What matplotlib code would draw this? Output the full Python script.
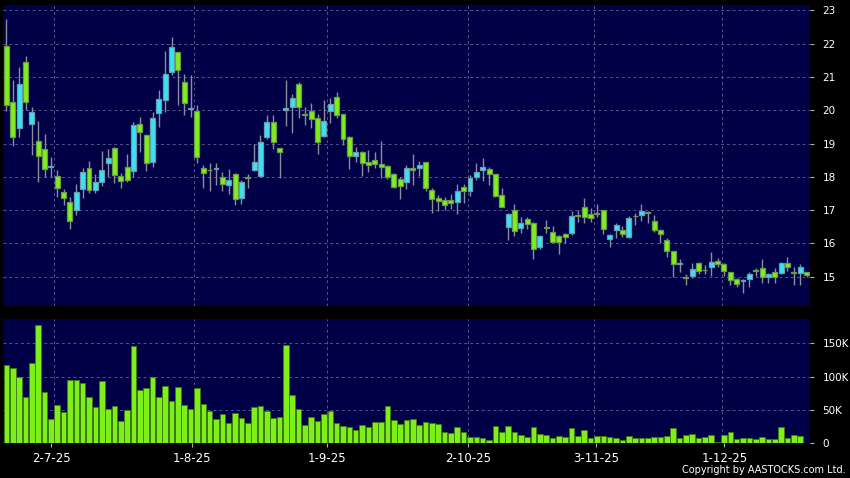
#!/usr/bin/env python3

import numpy as np
import matplotlib
matplotlib.use('Agg')
import matplotlib.pyplot as plt

# daily prices (index 0 = first session shown)
opens = [21.93, 20.24, 19.46, 21.44, 19.58, 19.07, 18.83, 18.28, 18.02, 17.53,
         17.23, 16.99, 17.62, 18.26, 17.59, 17.85, 18.41, 18.86, 18.03, 18.28,
         18.17, 19.58, 19.25, 18.45, 19.91, 20.31, 21.14, 21.74, 20.84, 20.03,
         19.98, 18.27, 18.21, 18.22, 18.00, 17.74, 18.07, 17.35, 17.99, 18.20,
         18.02, 19.20, 19.64, 18.86, 20.00, 20.10, 20.78, 19.89, 19.98, 19.76,
         19.23, 19.99, 20.39, 19.88, 19.20, 18.63, 18.75, 18.44, 18.50, 18.38,
         18.31, 18.07, 17.92, 17.85, 18.26, 18.27, 18.44, 17.60, 17.35, 17.30,
         17.30, 17.23, 17.68, 17.58, 18.00, 18.20, 18.22, 18.07, 17.44, 16.50,
         16.99, 16.45, 16.72, 16.62, 15.90, 16.48, 16.35, 16.22, 16.28, 16.32,
         16.84, 17.10, 16.87, 16.91, 16.99, 16.12, 16.40, 16.40, 16.18, 16.83,
         16.84, 16.93, 16.67, 16.40, 16.10, 15.76, 15.38, 14.98, 15.03, 15.42,
         15.21, 15.30, 15.46, 15.37, 15.13, 14.92, 14.86, 14.92, 15.19, 15.26,
         14.98, 15.13, 15.10, 15.40, 15.14, 15.12, 15.13]
highs = [22.74, 20.91, 21.31, 21.63, 20.09, 19.68, 19.29, 18.60, 18.20, 17.63,
         17.40, 17.77, 18.27, 18.47, 18.08, 18.77, 18.83, 18.90, 18.10, 18.70,
         19.65, 19.80, 19.30, 19.95, 20.61, 21.79, 22.21, 21.76, 21.09, 21.05,
         20.16, 18.35, 18.40, 18.40, 18.15, 18.22, 18.10, 17.90, 18.08, 19.00,
         19.26, 19.86, 19.86, 18.88, 20.91, 20.48, 20.86, 20.10, 20.21, 19.90,
         20.31, 20.36, 20.54, 19.90, 19.22, 18.90, 18.77, 18.80, 18.74, 19.07,
         18.36, 18.10, 17.98, 18.35, 18.70, 18.47, 18.45, 17.65, 17.45, 17.40,
         17.48, 17.78, 17.77, 18.05, 18.40, 18.55, 18.29, 18.08, 17.65, 16.90,
         17.17, 16.80, 16.80, 16.65, 16.25, 16.70, 16.52, 16.25, 16.30, 16.97,
         17.00, 17.35, 17.05, 17.17, 17.00, 16.27, 16.62, 16.52, 16.82, 16.92,
         17.18, 16.97, 16.84, 16.42, 16.15, 15.78, 15.53, 15.07, 15.40, 15.45,
         15.35, 15.75, 15.55, 15.40, 15.15, 14.95, 14.92, 15.15, 15.27, 15.53,
         15.10, 15.25, 15.45, 15.60, 15.30, 15.37, 15.15]
lows = [19.98, 18.93, 19.20, 20.00, 18.65, 17.85, 18.00, 18.00, 17.40, 17.15,
        16.44, 16.85, 17.35, 17.52, 17.52, 17.73, 18.00, 17.82, 17.65, 17.85,
        18.00, 18.75, 18.18, 18.30, 19.50, 19.94, 21.07, 20.16, 19.86, 19.80,
        18.42, 17.67, 17.58, 17.75, 17.58, 17.47, 17.14, 17.18, 17.65, 18.18,
        18.00, 19.13, 18.83, 17.97, 19.53, 19.32, 19.76, 19.56, 19.47, 18.68,
        19.19, 19.62, 19.76, 18.95, 18.23, 18.45, 18.03, 18.15, 18.26, 17.95,
        17.93, 17.65, 17.33, 17.63, 17.75, 18.02, 17.58, 16.92, 16.97, 17.00,
        17.03, 16.87, 17.20, 17.42, 17.90, 17.88, 17.75, 17.38, 17.08, 16.10,
        16.23, 16.32, 16.42, 15.54, 15.82, 16.32, 16.03, 15.68, 16.00, 16.25,
        16.65, 16.62, 16.65, 16.80, 16.27, 15.90, 16.17, 16.18, 16.15, 16.55,
        16.68, 16.60, 16.35, 16.02, 15.60, 15.00, 15.15, 14.75, 14.95, 15.08,
        15.08, 15.02, 15.30, 15.02, 14.75, 14.68, 14.52, 14.70, 15.02, 14.80,
        14.80, 14.80, 15.08, 15.18, 14.75, 14.75, 15.00]
closes = [20.15, 19.19, 20.78, 20.24, 19.94, 18.62, 18.23, 18.32, 17.67, 17.35,
          16.66, 17.53, 18.14, 17.59, 17.83, 18.20, 18.56, 18.05, 17.86, 17.89,
          19.55, 19.34, 18.41, 19.76, 20.33, 21.08, 21.89, 21.22, 20.23, 20.08,
          18.59, 18.10, 18.19, 18.27, 17.77, 17.90, 17.32, 17.85, 17.97, 18.44,
          19.04, 19.64, 19.05, 18.75, 20.06, 20.36, 20.10, 19.87, 19.74, 19.05,
          19.69, 20.18, 19.85, 19.13, 18.62, 18.75, 18.41, 18.35, 18.38, 18.29,
          18.00, 17.70, 17.73, 18.26, 18.20, 18.35, 17.67, 17.34, 17.26, 17.14,
          17.20, 17.57, 17.58, 17.95, 18.14, 18.29, 18.07, 17.43, 17.10, 16.87,
          16.37, 16.62, 16.58, 15.82, 16.22, 16.46, 16.05, 16.05, 16.18, 16.82,
          16.82, 16.78, 16.75, 16.89, 16.42, 16.25, 16.54, 16.27, 16.75, 16.81,
          16.98, 16.91, 16.40, 16.27, 15.76, 15.37, 15.41, 14.96, 15.22, 15.18,
          15.19, 15.45, 15.37, 15.18, 14.90, 14.77, 14.90, 15.08, 15.17, 14.98,
          15.08, 14.98, 15.40, 15.30, 15.12, 15.28, 15.04]
volume = [117500, 112500, 99500, 69500, 120000, 177500, 77000, 36500, 58000, 47000,
          95500, 95500, 90000, 69500, 54500, 93500, 51000, 55500, 33500, 50000,
          145500, 80500, 83000, 99500, 69500, 86500, 63000, 84500, 58000, 51000,
          83000, 58500, 48000, 36500, 44000, 30000, 45000, 38500, 30000, 54000,
          56000, 49000, 37500, 39000, 148000, 72000, 51000, 27500, 39000, 34000,
          44500, 49000, 30000, 26000, 24000, 20000, 27500, 24000, 31500, 31500,
          56000, 35000, 29000, 35000, 36500, 27000, 32000, 30000, 29000, 16500,
          15500, 24500, 17500, 9500, 9000, 8500, 5500, 26000, 17500, 26000,
          17500, 12000, 9000, 24500, 14000, 12500, 8500, 11000, 9500, 22500,
          11000, 20000, 7500, 11000, 11500, 9000, 8500, 5500, 11500, 7500,
          7500, 8500, 10000, 10000, 11000, 22500, 8000, 12500, 14500, 8000,
          9500, 12500, 2500, 12000, 17000, 6500, 7500, 7500, 7000, 9500,
          7000, 7000, 24000, 8500, 12000, 11000, 1000]
date_labels = ['2-7-25', '1-8-25', '1-9-25', '2-10-25', '3-11-25', '1-12-25']
price_ticks = list(range(15, 24))
vol_ticks = [0, 50000, 100000, 150000]
vol_tick_labels = ['0', '50K', '100K', '150K']

# layout (session index units)
label_pos = [7.07, 29.28, 50.44, 72.65, 92.9, 113.05]
grid_pos = [7.54, 29.59, 50.54, 72.65, 92.61, 112.64]

BG = '#000046'
GRID = '#55558a'
UP_FILL, UP_EDGE = '#38e4f4', '#6a9cb0'
DN_FILL, DN_EDGE = '#7ef01c', '#6a9a48'

W, H = 850, 478
fig = plt.figure(figsize=(W / 100, H / 100), dpi=100, facecolor='black')
ax = fig.add_axes([3.3 / W, 1 - 306 / H, (810 - 3.3) / W, (306 - 5) / H])
axv = fig.add_axes([3.3 / W, 1 - 443.3 / H, (810 - 3.3) / W, (443.3 - 319) / H])

x = np.arange(len(opens))
o = np.array(opens)
c = np.array(closes)
up = c > o

for a in (ax, axv):
    a.set_facecolor(BG)
    for s in a.spines.values():
        s.set_visible(False)
    a.set_xlim(-0.5, 126.55)
    for g in grid_pos:
        a.axvline(g, color=GRID, lw=0.7, ls=(0, (3, 3)), zorder=0)
    a.yaxis.tick_right()
    a.tick_params(axis='y', colors='#b0b0b0', labelcolor='white', length=3, width=0.8, pad=6)

# price panel
ax.set_ylim(14.12, 23.16)
for p in price_ticks:
    ax.axhline(p, color=GRID, lw=0.7, ls=(0, (3, 3)), zorder=0)
ax.vlines(x, lows, highs, color='#8c8ca0', lw=1, zorder=2)
ax.bar(x, np.abs(c - o), bottom=np.minimum(o, c), width=0.78,
       color=np.where(up, UP_FILL, DN_FILL),
       edgecolor=np.where(up, UP_EDGE, DN_EDGE), linewidth=0.9, zorder=3)
ax.set_yticks(price_ticks)
ax.set_yticklabels([str(p) for p in price_ticks], fontsize=7.5)
ax.set_xticks([])

# volume panel
axv.set_ylim(0, 186500)
for v in vol_ticks[1:]:
    axv.axhline(v, color=GRID, lw=0.7, ls=(0, (3, 3)), zorder=0)
axv.bar(x, volume, width=0.88, color='#7cf018', edgecolor='#3f7a12', linewidth=0.6, zorder=3)
axv.set_yticks(vol_ticks)
axv.set_yticklabels(vol_tick_labels, fontsize=7.5)
axv.set_xticks(label_pos)
axv.set_xticklabels(date_labels, fontsize=8.5)
axv.tick_params(axis='x', colors='#b0b0b0', labelcolor='white', length=3, width=0.8, pad=3)

fig.text(0.995, 0.006, 'Copyright by AASTOCKS.com Ltd.', ha='right', va='bottom',
         color='white', fontsize=7)

fig.savefig('out.png', dpi=100, facecolor='black')
